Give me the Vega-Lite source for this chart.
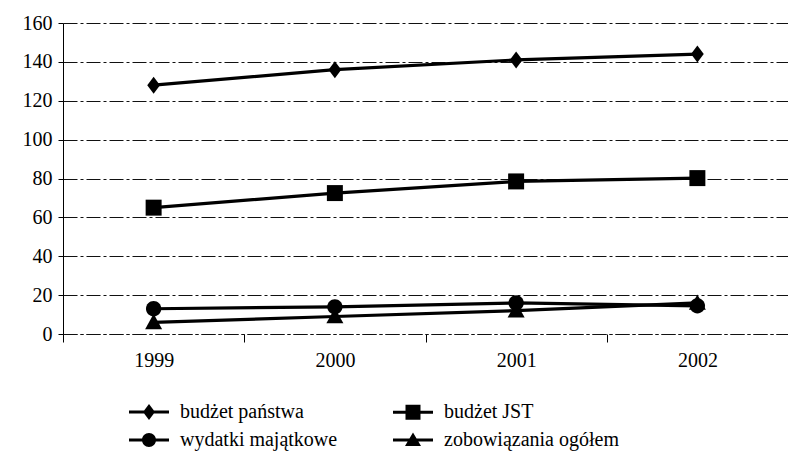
{
  "$schema": "https://vega.github.io/schema/vega-lite/v6.json",
  "width": 725,
  "height": 311,
  "autosize": {"type": "none"},
  "padding": {"left": 63, "top": 23, "right": 0, "bottom": 128},
  "background": "white",
  "config": {
    "view": {"stroke": null},
    "font": "Liberation Serif",
    "axis": {"labelFont": "Liberation Serif", "labelFontSize": 20, "labelColor": "black"},
    "legend": {"labelFont": "Liberation Serif"}
  },
  "data": {
    "values": [
      {"year": "1999", "series": "budżet państwa", "value": 128},
      {"year": "2000", "series": "budżet państwa", "value": 136},
      {"year": "2001", "series": "budżet państwa", "value": 141},
      {"year": "2002", "series": "budżet państwa", "value": 144},
      {"year": "1999", "series": "budżet JST", "value": 65},
      {"year": "2000", "series": "budżet JST", "value": 72.5},
      {"year": "2001", "series": "budżet JST", "value": 78.5},
      {"year": "2002", "series": "budżet JST", "value": 80.2},
      {"year": "1999", "series": "zobowiązania ogółem", "value": 6},
      {"year": "2000", "series": "zobowiązania ogółem", "value": 9},
      {"year": "2001", "series": "zobowiązania ogółem", "value": 12},
      {"year": "2002", "series": "zobowiązania ogółem", "value": 16},
      {"year": "1999", "series": "wydatki majątkowe", "value": 13},
      {"year": "2000", "series": "wydatki majątkowe", "value": 14},
      {"year": "2001", "series": "wydatki majątkowe", "value": 16},
      {"year": "2002", "series": "wydatki majątkowe", "value": 14.5}
    ]
  },
  "encoding": {
    "x": {
      "field": "year",
      "type": "ordinal",
      "bandPosition": 0.5,
      "scale": {"type": "band", "paddingInner": 0, "paddingOuter": 0},
      "axis": {
        "title": null,
        "labelAngle": 0,
        "labelFont": "Liberation Serif",
        "labelFontSize": 20,
        "labelColor": "black",
        "tickBand": "extent",
        "tickSize": 8,
        "tickColor": "black",
        "tickWidth": 1,
        "labelPadding": 8,
        "domainColor": "#111",
        "domainDash": [14, 3, 3, 3],
        "domainWidth": 1,
        "grid": false
      }
    },
    "y": {
      "field": "value",
      "type": "quantitative",
      "scale": {"domain": [0, 160], "nice": false, "zero": true},
      "axis": {
        "title": null,
        "values": [0, 20, 40, 60, 80, 100, 120, 140, 160],
        "labelFont": "Liberation Serif",
        "labelFontSize": 20,
        "labelColor": "black",
        "tickSize": 5,
        "tickColor": "black",
        "labelPadding": 6,
        "domainColor": "black",
        "domainWidth": 1,
        "grid": true,
        "gridColor": "#111",
        "gridDash": [14, 3, 3, 3],
        "gridWidth": 1
      }
    }
  },
  "layer": [
    {
      "mark": {"type": "line", "color": "black", "strokeWidth": 3.2},
      "encoding": {"detail": {"field": "series"}}
    },
    {
      "mark": {"type": "point", "filled": true, "color": "black", "opacity": 1},
      "encoding": {
        "shape": {
          "field": "series",
          "scale": {
            "domain": ["budżet państwa", "budżet JST", "wydatki majątkowe", "zobowiązania ogółem"],
            "range": [
              "M0,-1L0.75,0L0,1L-0.75,0Z",
              "M-0.94,-0.94H0.94V0.94H-0.94Z",
              "M0.9,0A0.9,0.9,0,1,1,-0.9,0A0.9,0.9,0,1,1,0.9,0Z",
              "M0,-1L1,0.8L-1,0.8Z"
            ]
          },
          "legend": null
        },
        "size": {"value": 289}
      }
    },
    {
      "mark": {"type": "point", "filled": true, "color": "black", "opacity": 0},
      "encoding": {
        "shape": {
          "field": "series",
          "scale": {
            "domain": ["budżet państwa", "budżet JST", "wydatki majątkowe", "zobowiązania ogółem"],
            "range": [
              "M-1,-0.15H3V0.15H-1ZM1,-0.8L1.6,0L1,0.8L0.4,0Z",
              "M-1,-0.15H3V0.15H-1ZM0.25,-0.75H1.75V0.75H0.25Z",
              "M-1,-0.15H3V0.15H-1ZM1.7,0A0.7,0.7,0,1,1,0.3,0A0.7,0.7,0,1,1,1.7,0Z",
              "M-1,-0.15H3V0.15H-1ZM1,-0.75L1.8,0.6L0.2,0.6Z"
            ]
          },
          "legend": {
            "orient": "none",
            "direction": "horizontal",
            "legendX": 65,
            "legendY": 378,
            "columns": 2,
            "title": null,
            "padding": 0,
            "symbolSize": 400,
            "symbolFillColor": "black",
            "symbolOpacity": 1,
            "labelFont": "Liberation Serif",
            "labelFontSize": 20,
            "labelColor": "black",
            "labelOffset": 30,
            "labelLimit": 300,
            "columnPadding": 52,
            "rowPadding": 6,
            "encode": {
              "symbols": {
                "update": {
                  "fill": {"value": "black"},
                  "fillOpacity": {"value": 1},
                  "opacity": {"value": 1}
                }
              }
            }
          }
        },
        "size": {"value": 1}
      }
    }
  ],
  "resolve": {"scale": {"shape": "independent"}}
}
